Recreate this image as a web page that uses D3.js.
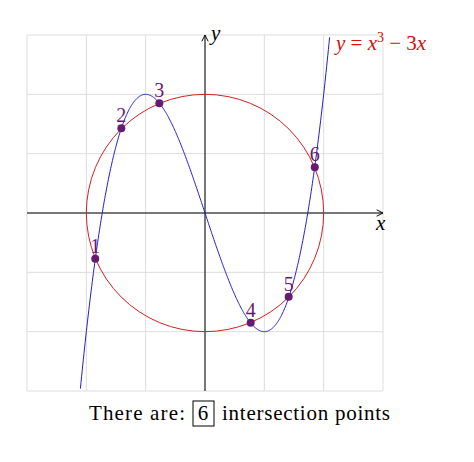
<!DOCTYPE html><html><head><meta charset="utf-8"><script src="https://cdn.jsdelivr.net/npm/d3@7"></script>
<style>body{margin:0;background:#fff}</style></head><body><svg id="c" width="474" height="462"></svg>
<script>
const ticks=[-3,-2,-1,0,1,2,3];
const ptX=[-1.85,-1.41,-0.77,0.77,1.41,1.85];
const ptY=[-0.77,1.43,1.85,-1.85,-1.41,0.77];
const ptLabel=["1","2","3","4","5","6"];
const circleR=2;
const curveRange=[-2.1,2.1];
const svg=d3.select("#c");
const x=d3.scaleLinear().domain([-3,3]).range([27,383]);
const y=d3.scaleLinear().domain([-3,3]).range([391,35]);
const F="Liberation Serif, serif";
svg.append("g").selectAll("line.v").data(ticks).join("line").attr("x1",d=>x(d)).attr("x2",d=>x(d)).attr("y1",y(-3)).attr("y2",y(3)).attr("stroke","#ddd");
svg.append("g").selectAll("line.h").data(ticks).join("line").attr("y1",d=>y(d)).attr("y2",d=>y(d)).attr("x1",x(-3)).attr("x2",x(3)).attr("stroke","#ddd");
svg.append("defs").append("marker").attr("id","a").attr("viewBox","0 0 10 10").attr("refX",9).attr("refY",5).attr("markerWidth",8).attr("markerHeight",8).attr("orient","auto").append("path").attr("d","M1,1 L9,5 L1,9").attr("fill","none").attr("stroke","#000").attr("stroke-width",1.2);
svg.append("line").attr("x1",x(-3)).attr("x2",x(3)).attr("y1",y(0)).attr("y2",y(0)).attr("stroke","#000").attr("marker-end","url(#a)");
svg.append("line").attr("x1",x(0)).attr("x2",x(0)).attr("y1",y(-3)).attr("y2",y(3)).attr("stroke","#000").attr("marker-end","url(#a)");
svg.append("text").attr("x",376).attr("y",230).text("x").attr("font-family",F).attr("font-style","italic").attr("font-size",21);
svg.append("text").attr("x",211).attr("y",40).text("y").attr("font-family",F).attr("font-style","italic").attr("font-size",21);
svg.append("circle").attr("cx",x(0)).attr("cy",y(0)).attr("r",x(circleR)-x(0)).attr("fill","none").attr("stroke","#d02020").attr("stroke-width",1);
const xs=d3.range(curveRange[0],curveRange[1]+1e-9,0.01);
svg.append("path").datum(xs).attr("d",d3.line().x(d=>x(d)).y(d=>y(d*d*d-3*d))).attr("fill","none").attr("stroke","#2020d0").attr("stroke-width",1);
const t=svg.append("text").attr("x",336).attr("y",50).attr("fill","#d01010").attr("font-family",F).attr("font-size",21);
t.append("tspan").attr("font-style","italic").text("y");t.append("tspan").text(" = ");t.append("tspan").attr("font-style","italic").text("x");
t.append("tspan").attr("font-size",14).attr("dy",-8).text("3");t.append("tspan").attr("dy",8).text(" − 3");t.append("tspan").attr("font-style","italic").text("x");
const pts=ptX.map((v,i)=>({x:v,y:ptY[i],l:ptLabel[i]}));
svg.selectAll("circle.p").data(pts).join("circle").attr("cx",d=>x(d.x)).attr("cy",d=>y(d.y)).attr("r",4).attr("fill","#661a73");
svg.selectAll("text.p").data(pts).join("text").attr("x",d=>x(d.x)).attr("y",d=>y(d.y)-6).attr("text-anchor","middle").attr("fill","#661a73").attr("font-family",F).attr("font-size",20).text(d=>d.l);
const ft=g=>g.attr("font-family",F).attr("font-size",21).attr("y",420);
ft(svg.append("text")).attr("x",89).attr("textLength",96).text("There are:");
ft(svg.append("text")).attr("x",203).attr("text-anchor","middle").text(pts.length);
ft(svg.append("text")).attr("x",222).attr("textLength",168).text("intersection points");
svg.append("rect").attr("x",193).attr("y",401).attr("width",21).attr("height",25).attr("fill","none").attr("stroke","#000");
</script></body></html>
